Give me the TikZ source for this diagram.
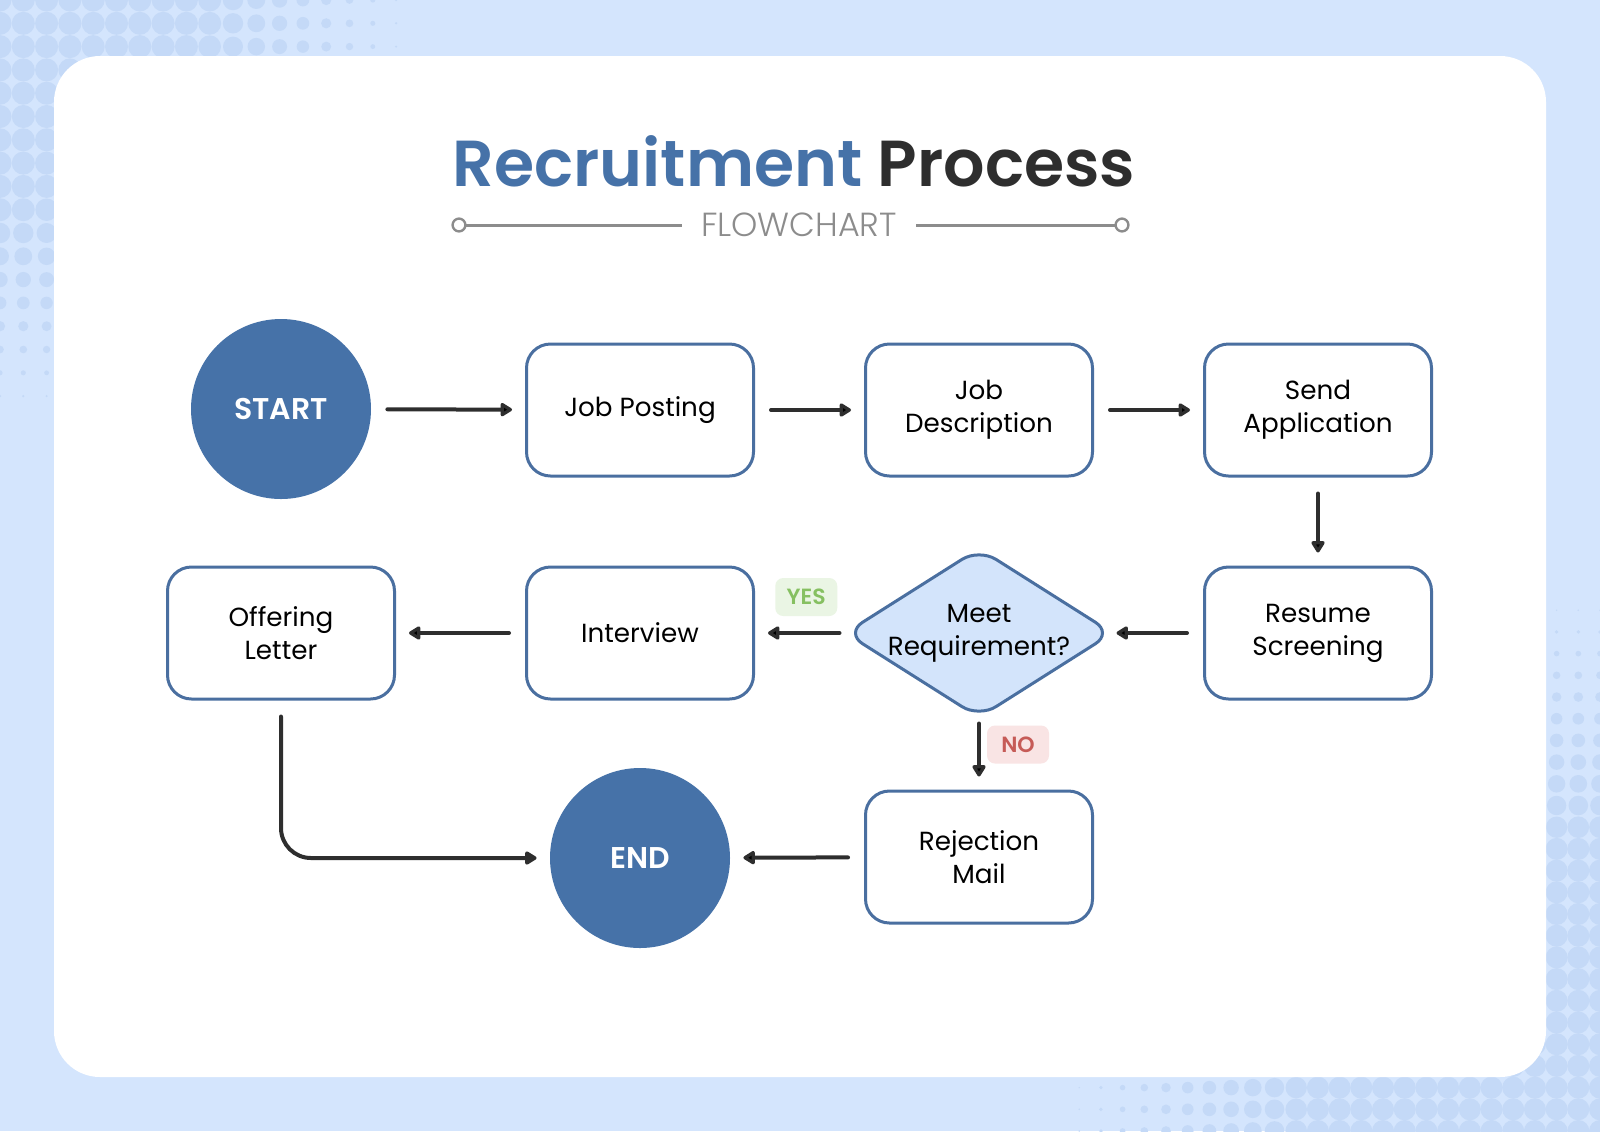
\documentclass[tikz,border=0pt]{standalone}
\usepackage{fontspec}
\setmainfont{Poppins}
\newfontfamily\headfont{Poppins}[UprightFont=* SemiBold]
\newfontfamily\thinfont{Poppins}[UprightFont=* Light]
\usetikzlibrary{arrows.meta}
\usetikzlibrary{calc}
\usetikzlibrary{positioning}
\usetikzlibrary{shapes.geometric}

\definecolor{pageblue}{HTML}{D4E5FD}
\definecolor{dotblue}{HTML}{C4D9F7}
\definecolor{stepblue}{HTML}{4672A8}
\definecolor{edgeblue}{HTML}{4A6FA0}
\definecolor{askblue}{HTML}{D3E4FB}
\definecolor{ink}{HTML}{2E2E2E}
\definecolor{rulegray}{HTML}{8C8C8C}
\definecolor{yesback}{HTML}{EAF5E4}
\definecolor{yestext}{HTML}{86C061}
\definecolor{noback}{HTML}{F9E4E4}
\definecolor{notext}{HTML}{C65B57}

\newcommand{\stepfont}{\fontsize{13.1}{16.5}\selectfont}

\tikzset{
  stepbox/.style={draw=edgeblue,line width=1.5pt,fill=white,rounded corners=12pt,
    minimum width=113.5pt,minimum height=66pt,align=center,text=black,font=\stepfont},
  terminal/.style={circle,fill=stepblue,minimum size=90pt,inner sep=0pt,
    text=white,font=\headfont\fontsize{15}{18}\selectfont},
  decision/.style={diamond,draw=edgeblue,line width=1.5pt,fill=askblue,rounded corners=10pt,
    minimum width=134pt,minimum height=85pt,inner sep=0pt},
  flow/.style={draw=ink,line width=2pt,line cap=round,-{Triangle[length=6.5pt,width=7.5pt,round]},
    shorten <=8pt,shorten >=6.5pt},
  tag/.style={rounded corners=4pt,minimum width=31pt,minimum height=19pt,inner sep=0pt,
    font=\headfont\fontsize{11}{13}\selectfont}
}

\begin{document}
\begin{tikzpicture}[x=0.5pt,y=-0.5pt]

  \useasboundingbox (0,0) rectangle (1600,1131);
  \fill [pageblue] (0,0) rectangle (1600,1131);

  % halftone corners
  \foreach \i in {0,...,20} {
    \foreach \j in {0,...,20} {
      \pgfmathsetmacro\dotr{11.5*min(1,(420-veclen(\i*23.3,\j*23.3))/210)}
      \ifdim\dotr pt>0.5pt \fill [dotblue] (\i*23.3,\j*23.3) circle [radius=\dotr*0.5pt]; \fi
    }
  }
  \foreach \i in {0,...,25} {
    \foreach \j in {0,...,25} {
      \pgfmathsetmacro\dotr{11*min(1,(540-veclen(\i*21.7,\j*21.7))/240)}
      \ifdim\dotr pt>0.5pt \fill [dotblue] (1600-\i*21.7,1131-\j*21.7) circle [radius=\dotr*0.5pt]; \fi
    }
  }

  \fill [white,rounded corners=23pt] (54,56) rectangle (1546,1077);

  % heading
  \node (title) at (794,161) {\headfont\fontsize{32.5}{38}\selectfont
    \textcolor{stepblue}{Recruitment} \textcolor{ink}{Process}};
  \node [text=rulegray,font=\thinfont\fontsize{16.7}{20}\selectfont] (sub) at (799,225) {FLOWCHART};
  \coordinate (ltick) at (459,225);
  \coordinate (rtick) at (1122,225);
  \draw [rulegray,line width=1.5pt,shorten >=6pt] (ltick) -- (sub.west);
  \draw [rulegray,line width=1.5pt,shorten >=6pt] (rtick) -- (sub.east);
  \draw [rulegray,line width=1.2pt,fill=white] (ltick) circle [radius=3.2pt];
  \draw [rulegray,line width=1.2pt,fill=white] (rtick) circle [radius=3.2pt];

  % steps
  \node [terminal] (start) at (281,409) {START};
  \node [stepbox] (post) at (640,410) {Job Posting};
  \node [stepbox] (desc) at (979,410) {Job\\Description};
  \node [stepbox] (send) at (1318,410) {Send\\Application};
  \node [stepbox] (screen) at (1318,633) {Resume\\Screening};
  \node [decision,label={[align=center,font=\stepfont]center:Meet\\Requirement?}] (meet) at (979,633) {};
  \node [stepbox] (interview) at (640,633) {Interview};
  \node [stepbox] (offer) at (281,633) {Offering\\Letter};
  \node [stepbox] (reject) at (979,857) {Rejection\\Mail};
  \node [terminal] (end) at (640,858) {END};

  \path [flow]
    (start)     edge (post)
    (post)      edge (desc)
    (desc)      edge (send)
    (send)      edge (screen)
    (screen)    edge [shorten >=1pt] (meet)
    (meet)      edge [shorten <=2pt] node [tag,fill=yesback,text=yestext,above=7.5pt,xshift=3.5pt] (yes) {YES} (interview)
    (meet)      edge [shorten <=2pt] node [tag,fill=noback,text=notext,right=3pt,yshift=5pt] (no) {NO} (reject)
    (interview) edge (offer)
    (reject)    edge (end);

  \draw [flow,rounded corners=15pt] (offer) |- (end);

\end{tikzpicture}
\end{document}
